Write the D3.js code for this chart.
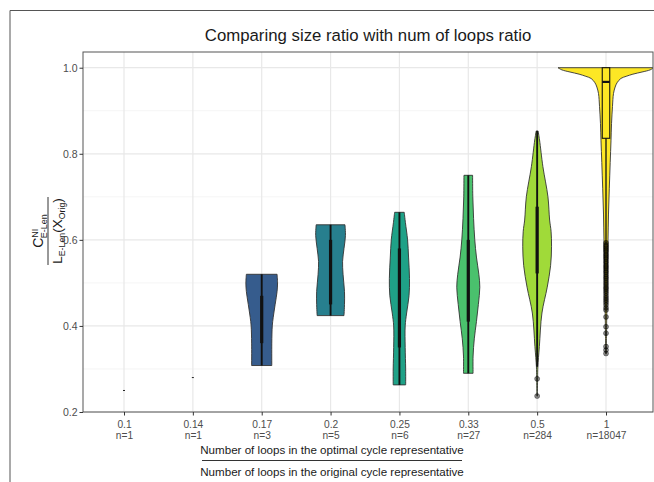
<!DOCTYPE html>
<html>
<head>
<meta charset="utf-8">
<script src="https://cdn.jsdelivr.net/npm/d3@7"></script>
<style>
  body { margin: 0; background: #fff; }
  svg { display: block; font-family: "Liberation Sans", Arial, sans-serif; }
</style>
</head>
<body>
<div id="chart"></div>
<script>
const categories = ['0.1', '0.14', '0.17', '0.2', '0.25', '0.33', '0.5', '1'];
const counts = [1, 1, 3, 5, 6, 27, 284, 18047];
const yTicks = [0.2, 0.4, 0.6, 0.8, 1.0];
const yMinor = [0.3, 0.5, 0.7, 0.9];

// groups with a single value
const singleCats = ['0.1', '0.14'];
const singleValues = [0.25, 0.28];

// violin outlines: [value, relative half width]
const violinCats = ['0.17', '0.2', '0.25', '0.33', '0.5', '1'];
const violin017 = [[0.308, 0.21], [0.36, 0.21], [0.40, 0.22], [0.42, 0.24], [0.45, 0.28], [0.48, 0.32], [0.50, 0.33], [0.52, 0.32]];
const violin02 = [[0.424, 0.28], [0.45, 0.29], [0.48, 0.29], [0.52, 0.26], [0.55, 0.25], [0.58, 0.28], [0.61, 0.31], [0.635, 0.30]];
const violin025 = [[0.263, 0.13], [0.30, 0.13], [0.35, 0.12], [0.40, 0.12], [0.43, 0.15], [0.47, 0.20], [0.51, 0.21], [0.56, 0.19], [0.60, 0.17], [0.64, 0.125], [0.664, 0.10]];
const violin033 = [[0.29, 0.10], [0.33, 0.10], [0.37, 0.125], [0.41, 0.17], [0.45, 0.21], [0.49, 0.24], [0.52, 0.22], [0.56, 0.17], [0.60, 0.135], [0.65, 0.11], [0.70, 0.094], [0.75, 0.09]];
const violin05 = [[0.237, 0.005], [0.28, 0.01], [0.305, 0.015], [0.352, 0.046], [0.43, 0.10], [0.49, 0.21], [0.54, 0.28], [0.584, 0.30], [0.62, 0.29], [0.646, 0.26], [0.70, 0.225], [0.77, 0.12], [0.832, 0.05], [0.853, 0.02]];
const violin1 = [[0.335, 0.006], [0.40, 0.0125], [0.45, 0.019], [0.50, 0.025], [0.55, 0.031], [0.60, 0.042], [0.66, 0.052], [0.72, 0.069], [0.78, 0.0875], [0.83, 0.104], [0.87, 0.115], [0.91, 0.135], [0.94, 0.156], [0.955, 0.19], [0.965, 0.23], [0.975, 0.31], [0.98, 0.42], [0.985, 0.56], [0.99, 0.75], [0.995, 0.92], [1.0, 1.0]];
const violinShapes = [violin017, violin02, violin025, violin033, violin05, violin1];

// boxplot stats, same order as violinCats
const whiskerLow = [0.308, 0.424, 0.263, 0.29, 0.305, 0.59];
const boxQ1 = [0.36, 0.45, 0.35, 0.41, 0.522, 0.836];
const boxMedian = [0.41, 0.52, 0.47, 0.50, 0.60, 0.967];
const boxQ3 = [0.47, 0.60, 0.58, 0.60, 0.677, 1.0];
const whiskerHigh = [0.52, 0.635, 0.664, 0.75, 0.853, 1.0];

const outliers05 = [0.277, 0.237];
const outliers1 = [0.593, 0.588, 0.584, 0.58, 0.576, 0.572, 0.567, 0.563, 0.559, 0.555, 0.55, 0.546, 0.541, 0.537, 0.533, 0.528, 0.524, 0.519, 0.514, 0.51, 0.505, 0.5, 0.495, 0.49, 0.486, 0.481, 0.476, 0.47, 0.465, 0.46, 0.455, 0.449, 0.442, 0.437, 0.421, 0.398, 0.383, 0.352, 0.344, 0.336];

const W = 654, H = 482;
const panel = {left: 83, right: 653, top: 52, bottom: 412};

const svg = d3.select('#chart')
  .append('svg')
    .attr('width', W)
    .attr('height', H);

// outer frame
svg.append('path')
  .attr('d', `M10,${H}V10.5H${W}`)
  .attr('fill', 'none')
  .attr('stroke', '#555')
  .attr('stroke-width', 1);

const x = d3.scalePoint()
  .domain(categories)
  .range([124, 606]);

const y = d3.scaleLinear()
  .domain([0.2, 1.0365])
  .range([panel.bottom, panel.top]);

const w = d3.scaleLinear()
  .domain([0, 1])
  .range([0, 48]);

const color = d3.scaleSequential(d3.interpolateViridis)
  .domain([0, categories.length - 1]);

// grid
const grid = svg.append('g');
grid.selectAll('.minor')
  .data(yMinor)
  .enter()
  .append('line')
    .attr('x1', panel.left).attr('x2', panel.right)
    .attr('y1', d => y(d)).attr('y2', d => y(d))
    .attr('stroke', '#f0f0f0')
    .attr('stroke-width', 0.7);
grid.selectAll('.major')
  .data(yTicks)
  .enter()
  .append('line')
    .attr('x1', panel.left).attr('x2', panel.right)
    .attr('y1', d => y(d)).attr('y2', d => y(d))
    .attr('stroke', '#e8e8e8')
    .attr('stroke-width', 1.2);
grid.selectAll('.vert')
  .data(categories)
  .enter()
  .append('line')
    .attr('x1', d => x(d)).attr('x2', d => x(d))
    .attr('y1', panel.top).attr('y2', panel.bottom)
    .attr('stroke', '#e8e8e8')
    .attr('stroke-width', 1.2);

svg.append('clipPath')
    .attr('id', 'clip')
  .append('rect')
    .attr('x', panel.left)
    .attr('y', panel.top)
    .attr('width', panel.right - panel.left)
    .attr('height', panel.bottom - panel.top);

const plot = svg.append('g').attr('clip-path', 'url(#clip)');

// single-value groups
plot.selectAll('.single')
  .data(singleCats)
  .enter()
  .append('line')
    .attr('x1', d => x(d) - 1)
    .attr('x2', d => x(d) + 1)
    .attr('y1', (d, i) => y(singleValues[i]))
    .attr('y2', (d, i) => y(singleValues[i]))
    .attr('stroke', '#222')
    .attr('stroke-width', 1);

// violins
violinCats.forEach((cat, i) => {
  const cx = x(cat);
  const area = d3.area()
    .curve(d3.curveCatmullRom)
    .y(d => y(d[0]))
    .x0(d => cx - w(d[1]))
    .x1(d => cx + w(d[1]));
  plot.append('path')
    .datum(violinShapes[i])
    .attr('d', area)
    .attr('fill', color(categories.indexOf(cat)))
    .attr('stroke', '#333')
    .attr('stroke-width', 0.9);
});

// boxplots
violinCats.forEach((cat, i) => {
  const cx = x(cat);
  const boxW = cat === '1' ? 7.5 : 3.2;
  plot.append('line')
    .attr('x1', cx).attr('x2', cx)
    .attr('y1', y(whiskerLow[i])).attr('y2', y(whiskerHigh[i]))
    .attr('stroke', '#111')
    .attr('stroke-width', cat === '1' ? 1.3 : 1.9);
  if (cat === '1') {
    plot.append('rect')
      .attr('x', cx - boxW / 2)
      .attr('y', y(boxQ3[i]))
      .attr('width', boxW)
      .attr('height', y(boxQ1[i]) - y(boxQ3[i]))
      .attr('fill', color(categories.indexOf(cat)))
      .attr('stroke', '#111')
      .attr('stroke-width', 1.1);
    plot.append('line')
      .attr('x1', cx - boxW / 2).attr('x2', cx + boxW / 2)
      .attr('y1', y(boxMedian[i])).attr('y2', y(boxMedian[i]))
      .attr('stroke', '#111')
      .attr('stroke-width', 2.2);
  } else {
    plot.append('rect')
      .attr('x', cx - boxW / 2)
      .attr('y', y(boxQ3[i]))
      .attr('width', boxW)
      .attr('height', y(boxQ1[i]) - y(boxQ3[i]))
      .attr('fill', '#111');
  }
});

// outliers
const outlierG = plot.append('g');
[['0.5', outliers05], ['1', outliers1]].forEach(([cat, vals]) => {
  outlierG.selectAll(null)
    .data(vals)
    .enter()
    .append('circle')
      .attr('cx', x(cat))
      .attr('cy', d => y(d))
      .attr('r', 2.5)
      .attr('fill', '#000')
      .attr('fill-opacity', 0.45)
      .attr('stroke', '#000')
      .attr('stroke-opacity', 0.5)
      .attr('stroke-width', 0.7);
});

// panel border
svg.append('rect')
  .attr('x', panel.left)
  .attr('y', panel.top)
  .attr('width', panel.right - panel.left)
  .attr('height', panel.bottom - panel.top)
  .attr('fill', 'none')
  .attr('stroke', '#555')
  .attr('stroke-width', 1);

// axes
svg.append('g')
    .attr('transform', `translate(${panel.left},0)`)
    .call(d3.axisLeft(y).tickValues(yTicks).tickFormat(d3.format('.1f')).tickSize(3.5).tickPadding(2))
    .call(g => g.select('.domain').remove())
    .call(g => g.selectAll('line').attr('stroke', '#333'))
    .call(g => g.selectAll('text').attr('fill', '#4d4d4d').style('font-size', '10.5px').attr('font-family', null));

const xAxis = svg.append('g')
    .attr('transform', `translate(0,${panel.bottom})`)
    .call(d3.axisBottom(x).tickSize(3.5).tickFormat(() => ''))
    .call(g => g.select('.domain').remove())
    .call(g => g.selectAll('line').attr('stroke', '#333'));

xAxis.selectAll('.tick text').remove();
xAxis.selectAll('.tick')
  .append('text')
    .attr('fill', '#4d4d4d')
    .attr('text-anchor', 'middle')
    .style('font-size', '10.2px')
    .each(function(d, i) {
      const t = d3.select(this);
      t.append('tspan').attr('x', 0).attr('y', 15.5).text(d);
      t.append('tspan').attr('x', 0).attr('y', 26.5).text('n=' + counts[i]);
    });

// title
svg.append('text')
  .attr('x', 368)
  .attr('y', 41)
  .attr('text-anchor', 'middle')
  .attr('fill', '#1a1a1a')
  .style('font-size', '16.8px')
  .text('Comparing size ratio with num of loops ratio');

// x title as fraction
const xt = svg.append('g').attr('transform', 'translate(332,0)');
xt.append('text')
  .attr('y', 454)
  .attr('text-anchor', 'middle')
  .attr('fill', '#1a1a1a')
  .style('font-size', '11.6px')
  .text('Number of loops in the optimal cycle representative');
xt.append('line')
  .attr('x1', -130).attr('x2', 130)
  .attr('y1', 460.5).attr('y2', 460.5)
  .attr('stroke', '#333')
  .attr('stroke-width', 1);
xt.append('text')
  .attr('y', 475.5)
  .attr('text-anchor', 'middle')
  .attr('fill', '#1a1a1a')
  .style('font-size', '11.6px')
  .text('Number of loops in the original cycle representative');

// y title as fraction
const yt = svg.append('g').attr('transform', 'translate(48,231) rotate(-90)');
const num = yt.append('text')
  .attr('y', -5)
  .attr('text-anchor', 'middle')
  .attr('fill', '#1a1a1a')
  .style('font-size', '14px');
num.append('tspan').text('C');
num.append('tspan').attr('dy', -5.5).style('font-size', '9px').text('NI');
num.append('tspan').attr('dx', -9.5).attr('dy', 9.5).style('font-size', '9px').text('E-Len');
yt.append('line')
  .attr('x1', -34).attr('x2', 34)
  .attr('y1', 0).attr('y2', 0)
  .attr('stroke', '#333')
  .attr('stroke-width', 1);
const den = yt.append('text')
  .attr('y', 13.5)
  .attr('text-anchor', 'middle')
  .attr('fill', '#1a1a1a')
  .style('font-size', '13.5px');
den.append('tspan').text('L');
den.append('tspan').attr('dy', 3).style('font-size', '8.8px').text('E-Len');
den.append('tspan').attr('dy', -3).text('(X');
den.append('tspan').attr('dy', 3).style('font-size', '8.8px').text('Orig');
den.append('tspan').attr('dy', -3).text(')');
</script>
</body>
</html>
